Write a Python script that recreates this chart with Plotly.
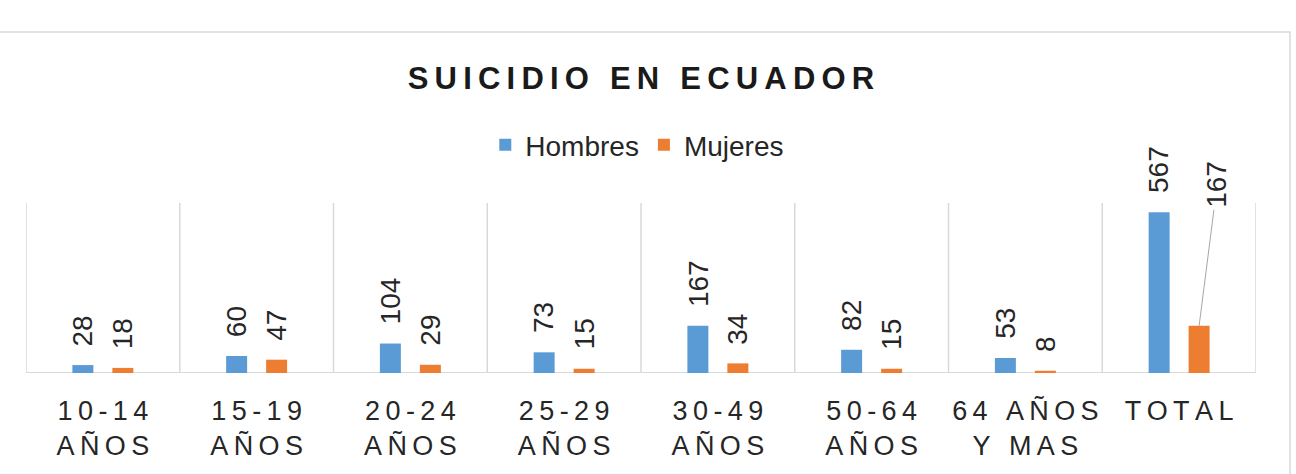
import plotly.graph_objects as go

categories = ["10-14|AÑOS", "15-19|AÑOS", "20-24|AÑOS", "25-29|AÑOS",
              "30-49|AÑOS", "50-64|AÑOS", "64 AÑOS|Y MAS", "TOTAL"]
hombres = [28, 60, 104, 73, 167, 82, 53, 567]
mujeres = [18, 47, 29, 15, 34, 15, 8, 167]
series_names = ["Hombres", "Mujeres"]
title_text = "SUICIDIO EN ECUADOR"

BLUE = "#5b9bd5"
ORANGE = "#ed7d31"
TXT = "#262626"
GRID = "#d9d9d9"
FONT = "Liberation Sans, Arial, sans-serif"
TS = "\u2009"  # thin space used as letter spacing


def spaced(s):
    return TS.join(list(s))


def tick_label(c):
    return "<br>".join(spaced(part) for part in c.split("|"))


labels = [tick_label(c) for c in categories]
xs = list(range(len(categories)))

fig = go.Figure()
fig.add_trace(go.Bar(x=xs, y=hombres, name=series_names[0], marker_color=BLUE,
                     marker_line_width=0))
fig.add_trace(go.Bar(x=xs, y=mujeres, name=series_names[1], marker_color=ORANGE,
                     marker_line_width=0))

LBL = dict(family=FONT, size=28, color=TXT)

# data labels (rotated)
annotations = []
for i, (h, m) in enumerate(zip(hombres, mujeres)):
    annotations.append(dict(x=i, y=h, xref="x", yref="y", text=str(h), textangle=-90,
                            showarrow=False, xshift=-20, yshift=17, yanchor="bottom",
                            font=LBL))
    if i == len(categories) - 1:
        annotations.append(dict(x=i, y=m, xref="x", yref="y", text=str(m), textangle=-90,
                                showarrow=True, arrowhead=0, arrowwidth=1, arrowcolor="#a6a6a6",
                                standoff=0, ax=18, ay=-141, xshift=20,
                                font=LBL))
    else:
        annotations.append(dict(x=i, y=m, xref="x", yref="y", text=str(m), textangle=-90,
                                showarrow=False, xshift=20, yshift=17, yanchor="bottom",
                                font=LBL))

shapes = []
# vertical category separators
for k in range(len(categories) + 1):
    shapes.append(dict(type="line", xref="x", yref="y domain", x0=k - 0.5, x1=k - 0.5,
                       y0=0, y1=1, line=dict(color=GRID, width=1.5), layer="below"))
# baseline
shapes.append(dict(type="line", xref="x", yref="y", x0=-0.5, x1=len(categories) - 0.5,
                   y0=0, y1=0, line=dict(color=GRID, width=2), layer="below"))
# outer chart border
W, H = 1296, 474
L, R, T, B = 26, 40, 203, 101
pw, ph = W - L - R, H - T - B
shapes.append(dict(type="rect", xref="paper", yref="paper",
                   x0=(-2 - L) / pw, x1=(1290 - L) / pw,
                   y0=(H - B - 500) / ph, y1=(H - B - 32) / ph,
                   line=dict(color=GRID, width=1.5), fillcolor="rgba(0,0,0,0)", layer="below"))

fig.update_layout(
    width=W, height=H,
    margin=dict(l=L, r=R, t=T, b=B),
    paper_bgcolor="white", plot_bgcolor="white",
    barmode="group", bargap=0.48, bargroupgap=0.475,
    title=dict(text="<b>" + spaced(title_text) + "</b>", x=0.5, xref="paper", xanchor="center",
               y=1 - 78 / H, yref="container", yanchor="middle",
               font=dict(family=FONT, size=31, color="#1a1a1a")),
    legend=dict(orientation="h", x=0.497, xanchor="center", xref="paper",
                y=(H - B - 145) / ph, yanchor="middle",
                font=dict(family=FONT, size=28, color=TXT), itemwidth=30,
                bgcolor="rgba(0,0,0,0)"),
    xaxis=dict(tickmode="array", tickvals=xs, ticktext=labels, range=[-0.5, len(categories) - 0.5],
               showgrid=False, zeroline=False, showline=False, ticks="",
               tickfont=dict(family=FONT, size=27, color=TXT), ticklabelstandoff=19),
    yaxis=dict(range=[0, 600], visible=False, showgrid=False, zeroline=False),
    annotations=annotations,
    shapes=shapes,
    showlegend=True,
)

fig.write_html("out.html")
